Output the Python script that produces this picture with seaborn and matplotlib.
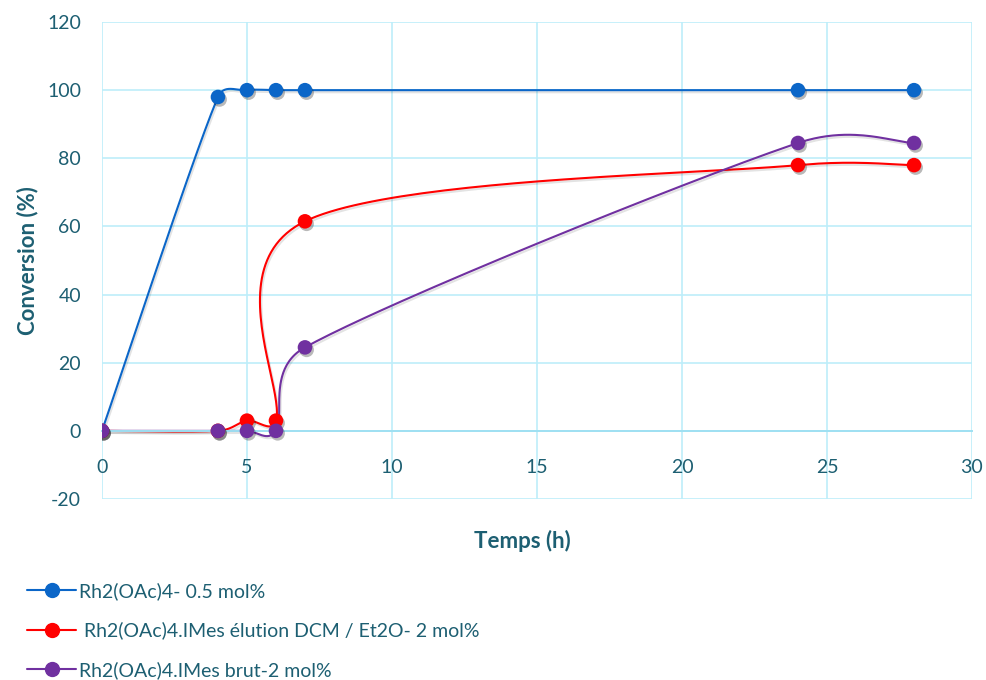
import numpy as np
import seaborn as sns
import matplotlib.pyplot as plt
import matplotlib.patheffects as pe
from matplotlib.lines import Line2D

# data
temps = [0, 4, 5, 6, 7, 24, 28]
conv_rh = [0, 98, 100, 100, 100, 100, 100]
conv_elution = [0, 0, 3, 3, 61.5, 78, 78]
conv_brut = [0, 0, 0, 0, 24.5, 84.5, 84.5]

labels = ["Rh2(OAc)4- 0.5 mol%",
          " Rh2(OAc)4.IMes élution DCM / Et2O- 2 mol%",
          "Rh2(OAc)4.IMes brut-2 mol%"]
colors = ["#0b66c8", "#ff0000", "#7030a0"]

txt = "#1d5f72"
grid_col = "#bdeefa"

sns.set_theme(style="white")
plt.rcParams['font.family'] = ['Lato', 'DejaVu Sans']
plt.rcParams['axes.unicode_minus'] = False

fig = plt.figure(figsize=(9.86, 6.8), dpi=100)
ax = fig.add_axes([0.1034, 0.2662, 0.8824, 0.7014])
ax.set_xlim(0, 30)
ax.set_ylim(-20, 120)


def ctrl(tan, seg_len):
    # keep control handle shorter than half the segment (like excel does)
    ln = np.hypot(*tan)
    lim = 0.5 * seg_len
    if ln > lim:
        tan = tan * lim / ln
    return tan


def smooth(xs, ys, n=50):
    # excel like smoothed line: bezier through points, done in screen space
    pts = ax.transData.transform(np.column_stack([xs, ys]))
    p = np.vstack([pts[0], pts, pts[-1]])
    out = []
    t = np.linspace(0, 1, n)[:, None]
    for i in range(1, len(p) - 2):
        p0, p1, p2, p3 = p[i - 1], p[i], p[i + 1], p[i + 2]
        seg = np.hypot(*(p2 - p1))
        c1 = p1 + ctrl((p2 - p0) / 6, seg)
        c2 = p2 - ctrl((p3 - p1) / 6, seg)
        b = ((1 - t) ** 3) * p1 + 3 * ((1 - t) ** 2) * t * c1 + 3 * (1 - t) * t ** 2 * c2 + t ** 3 * p2
        out.append(b)
    out = np.vstack(out)
    return ax.transData.inverted().transform(out)


shadow_line = [pe.SimpleLineShadow(offset=(1, -1.5), alpha=0.12, shadow_color='k'), pe.Normal()]
shadow_mark = [pe.SimplePatchShadow(offset=(1.2, -1.8), alpha=0.3, shadow_rgbFace='k'), pe.Normal()]

for ys, c in zip([conv_rh, conv_elution, conv_brut], colors):
    curve = smooth(temps, ys)
    sns.lineplot(x=curve[:, 0], y=curve[:, 1], sort=False, estimator=None,
                 color=c, linewidth=1.5, ax=ax)
    ax.lines[-1].set_path_effects(shadow_line)
    sns.scatterplot(x=temps, y=ys, color=c, s=110, edgecolor=c, linewidth=0, ax=ax)
    ax.collections[-1].set_path_effects(shadow_mark)
    ax.collections[-1].set_zorder(3)

ax.set_xlim(0, 30)
ax.set_ylim(-20, 120)
ax.set_xticks(range(0, 31, 5))
ax.set_yticks(range(-20, 121, 20))
ax.grid(True, color=grid_col, linewidth=1.2)
ax.set_axisbelow(True)
for s in ['top', 'right', 'left']:
    ax.spines[s].set_visible(False)
ax.spines['bottom'].set_position(('data', 0))
ax.spines['bottom'].set_color("#9fe0f2")
ax.spines['bottom'].set_linewidth(1.4)
ax.tick_params(axis='x', length=0, pad=20, labelsize=14, labelcolor=txt)
ax.tick_params(axis='y', length=0, pad=15, labelsize=14, labelcolor=txt)

ax.set_xlabel("Temps (h)", fontsize=16, fontweight='bold', color=txt)
ax.xaxis.set_label_coords(0.483, -0.065)
ax.set_ylabel("Conversion (%)", fontsize=16, fontweight='bold', color=txt, labelpad=6)

handles = [Line2D([], [], color=c, linewidth=1.5, marker='o', markersize=10) for c in colors]
leg = fig.legend(handles, labels, loc='upper left', bbox_to_anchor=(0.02, 0.155),
                 frameon=False, fontsize=14, labelspacing=1.1, handlelength=2.5,
                 handletextpad=0.15, borderaxespad=0)
for t in leg.get_texts():
    t.set_color(txt)

fig.savefig("out.png", dpi=100)
